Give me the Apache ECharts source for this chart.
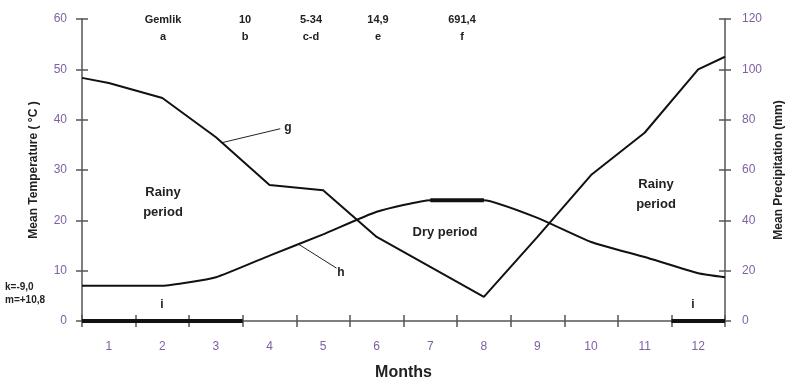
<!DOCTYPE html>
<html><head><meta charset="utf-8">
<script src="https://cdn.jsdelivr.net/npm/echarts@6/dist/echarts.min.js"></script>
<style>html,body{margin:0;padding:0;background:#fff}#c{width:787px;height:383px}</style>
</head><body><div id="c"></div>
<script>
const months = ['1','2','3','4','5','6','7','8','9','10','11','12'];
const monthPos = [0.5,1,2,3,4,5,6,7,8,9,10,11,12,12.5];
const precipitation = [96.6,94.6,88.6,73,54,52,33.4,21.5,9.6,33.4,58,74.8,100,105];
const temperature = [7,7,7,8.7,13,17.2,21.7,24,24,20.5,15.7,12.7,9.5,8.7];
const dryPos = [7,8];
const dryTemp = [24,24];
const rainyBars = [[0.5,3.5],[11.5,12.5]];
const headerTop = ['Gemlik','10','5-34','14,9','691,4'];
const headerBottom = ['a','b','c-d','e','f'];

const F = 'Liberation Sans, Arial, sans-serif';
const tickColor = '#7e62a0';
const axisColor = '#555';
const chart = echarts.init(document.getElementById('c'), null, {renderer:'canvas'});

const series = [
  {type:'line', xAxisIndex:2, yAxisIndex:1, data: monthPos.map((x,i)=>[x,precipitation[i]]),
   symbol:'none', lineStyle:{color:'#111', width:2}, z:5},
  {type:'line', xAxisIndex:2, yAxisIndex:0, data: monthPos.map((x,i)=>[x,temperature[i]]),
   symbol:'none', smooth:0.15, lineStyle:{color:'#111', width:2}, z:5},
  {type:'line', xAxisIndex:2, yAxisIndex:0, data: dryPos.map((x,i)=>[x,dryTemp[i]]),
   symbol:'none', lineStyle:{color:'#111', width:4}, z:6}
];
rainyBars.forEach(b=>{
  series.push({type:'line', xAxisIndex:2, yAxisIndex:0, data: b.map(x=>[x,0]),
    symbol:'none', lineStyle:{color:'#111', width:4}, z:6});
});
// leader lines for g and h
series.push({type:'line', xAxisIndex:2, yAxisIndex:0, data:[[3.1,35.4],[4.2,38.2]],
  symbol:'none', lineStyle:{color:'#222', width:1}, z:4});
series.push({type:'line', xAxisIndex:2, yAxisIndex:0, data:[[4.55,15.2],[5.25,10.5]],
  symbol:'none', lineStyle:{color:'#222', width:1}, z:4});

const txt = (x,y,t,size,extra)=>Object.assign({type:'text', x, y,
  style:{text:t, font:'bold '+size+'px '+F, fill:'#222', align:'center', verticalAlign:'middle'}}, extra||{});
const graphics = [];
const hx = [163,245,311,378,462];
headerTop.forEach((t,i)=>{ graphics.push(txt(hx[i],20,t,11)); graphics.push(txt(hx[i],37,headerBottom[i],11)); });
graphics.push(txt(163,192,'Rainy',13), txt(163,212,'period',13));
graphics.push(txt(445,232,'Dry period',13));
graphics.push(txt(656,184,'Rainy',13), txt(656,204,'period',13));
graphics.push({type:'text', x:5, y:287, style:{text:'k=-9,0', font:'bold 10px '+F, fill:'#222', align:'left', verticalAlign:'middle'}});
graphics.push({type:'text', x:5, y:300, style:{text:'m=+10,8', font:'bold 10px '+F, fill:'#222', align:'left', verticalAlign:'middle'}});
graphics.push(txt(288,128,'g',12), txt(341,273,'h',12));
graphics.push(txt(162,305,'i',12), txt(693,305,'i',12));

chart.setOption({
  animation:false,
  grid:{left:82, right:62, top:19, bottom:62, containLabel:false, outerBoundsMode:'none'},
  graphic: graphics,
  xAxis:[
    {type:'category', data:months, boundaryGap:true, position:'bottom',
     axisLine:{lineStyle:{color:axisColor, width:1.5}},
     axisTick:{show:true, length:6, lineStyle:{color:axisColor, width:1.5}},
     axisLabel:{color:tickColor, fontFamily:F, fontSize:12, margin:20},
     name:'Months', nameLocation:'middle', nameGap:44,
     nameTextStyle:{fontFamily:F, fontWeight:'bold', fontSize:16, color:'#222'}},
    {type:'category', data:months, boundaryGap:true, position:'bottom',
     axisLine:{show:false}, axisLabel:{show:false},
     axisTick:{show:true, inside:true, length:6, lineStyle:{color:axisColor, width:1.5}}},
    {type:'value', min:0.5, max:12.5, show:false}
  ],
  yAxis:[
    {type:'value', min:0, max:60, interval:10, position:'left',
     splitLine:{show:false},
     axisLine:{show:true, lineStyle:{color:axisColor, width:1.5}},
     axisTick:{show:true, length:6, lineStyle:{color:axisColor, width:1.5}},
     axisLabel:{color:tickColor, fontFamily:F, fontSize:12, margin:15},
     name:'Mean Temperature ( °C )', nameLocation:'middle', nameGap:42, nameRotate:90,
     nameTextStyle:{fontFamily:F, fontWeight:'bold', fontSize:12, color:'#222'}},
    {type:'value', min:0, max:120, interval:20, position:'right',
     splitLine:{show:false},
     axisLine:{show:true, lineStyle:{color:axisColor, width:1.5}},
     axisTick:{show:true, length:6, lineStyle:{color:axisColor, width:1.5}},
     axisLabel:{color:tickColor, fontFamily:F, fontSize:12, margin:17},
     name:'Mean Precipitation (mm)', nameLocation:'middle', nameGap:45, nameRotate:90,
     nameTextStyle:{fontFamily:F, fontWeight:'bold', fontSize:12, color:'#222'}},
    {type:'value', min:0, max:60, interval:10, position:'left', splitLine:{show:false},
     axisLine:{show:false}, axisLabel:{show:false},
     axisTick:{show:true, inside:true, length:6, lineStyle:{color:axisColor, width:1.5}}},
    {type:'value', min:0, max:120, interval:20, position:'right', splitLine:{show:false},
     axisLine:{show:false}, axisLabel:{show:false},
     axisTick:{show:true, inside:true, length:6, lineStyle:{color:axisColor, width:1.5}}}
  ],
  series: series
});
</script></body></html>
